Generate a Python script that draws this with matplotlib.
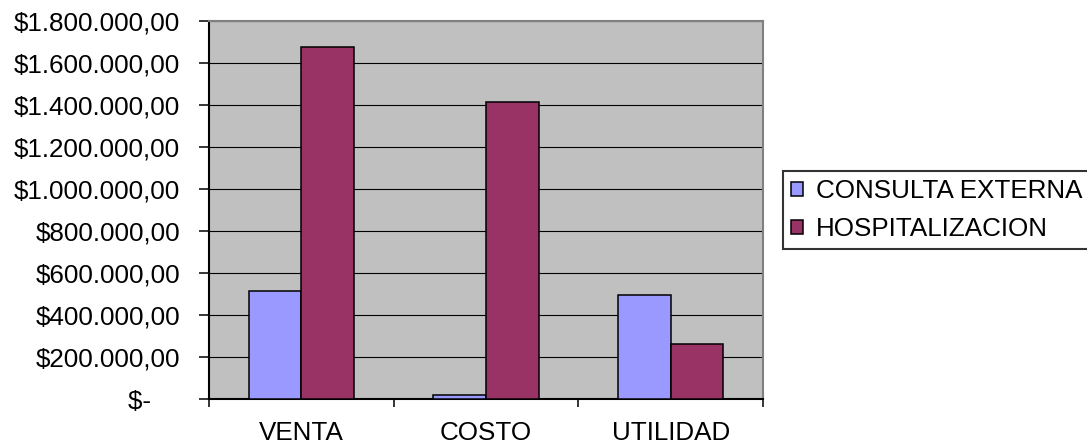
import matplotlib
matplotlib.use('Agg')
import matplotlib.pyplot as plt
import numpy as np

plt.rcParams['font.family'] = ['Liberation Sans', 'DejaVu Sans']

categories = ['VENTA', 'COSTO', 'UTILIDAD']
consulta = [515000, 18000, 497000]
hospital = [1677000, 1412000, 263000]
series_names = ['CONSULTA EXTERNA', 'HOSPITALIZACION']
y_ticks = [0, 200000, 400000, 600000, 800000, 1000000, 1200000, 1400000, 1600000, 1800000]
y_labels = ['$-    ', '$200.000,00', '$400.000,00', '$600.000,00', '$800.000,00',
            '$1.000.000,00', '$1.200.000,00', '$1.400.000,00', '$1.600.000,00', '$1.800.000,00']

fs = 18.7
fig = plt.figure(figsize=(10.87, 4.48), dpi=100)
ax = fig.add_axes([209 / 1087, 49 / 448, (763 - 209) / 1087, (427 - 49) / 448])
ax.set_facecolor('#C0C0C0')

x = np.arange(len(categories))
w = 1 / 3.5
ax.bar(x - w / 2, consulta, w, color='#9999FF', edgecolor='black', linewidth=1.1,
       label=series_names[0], zorder=3)
ax.bar(x + w / 2, hospital, w, color='#993366', edgecolor='black', linewidth=1.1,
       label=series_names[1], zorder=3)

ax.set_xlim(-0.5, len(categories) - 0.5)
ax.set_ylim(0, 1800000)
ax.set_yticks(y_ticks)
ax.set_yticklabels(y_labels, fontsize=fs)
ax.yaxis.grid(True, color='black', linewidth=0.8, zorder=1)
ax.set_axisbelow(True)

ax.set_xticks(x)
ax.set_xticklabels(categories, fontsize=fs)
ax.set_xticks(np.arange(len(categories) + 1) - 0.5, minor=True)
ax.tick_params(axis='x', which='major', length=0, pad=16)
ax.tick_params(axis='x', which='minor', length=6, width=1.1, direction='out')
ax.tick_params(axis='y', length=7, width=1.1, pad=14)

for s in ['top', 'right']:
    ax.spines[s].set_color('#808080')
    ax.spines[s].set_linewidth(1.5)
for s in ['left', 'bottom']:
    ax.spines[s].set_color('black')
    ax.spines[s].set_linewidth(1.5)

leg = fig.legend(loc='lower left', bbox_to_anchor=(783 / 1087, (448 - 249) / 448),
                 fontsize=fs, frameon=True, fancybox=False, edgecolor='black',
                 handlelength=0.47, handleheight=0.47, handletextpad=0.5,
                 labelspacing=0.55, borderpad=0.3, borderaxespad=0)
leg.get_frame().set_linewidth(1.5)

fig.savefig('out.png', dpi=100, facecolor='white')
